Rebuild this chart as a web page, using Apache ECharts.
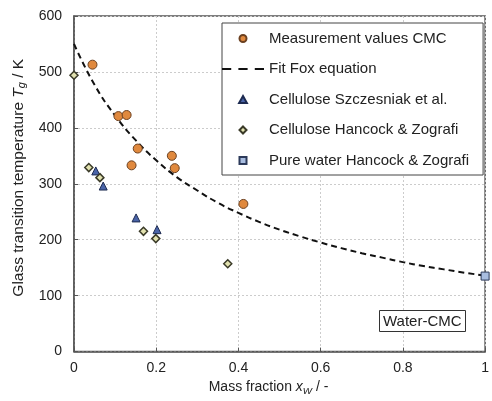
<!DOCTYPE html>
<html>
<head>
<meta charset="utf-8">
<script src="https://cdn.jsdelivr.net/npm/echarts@6/dist/echarts.min.js"></script>
<style>
  html, body { margin: 0; padding: 0; background: #fff; }
  #chart { width: 492px; height: 401px; }
</style>
</head>
<body>
<div id="chart"></div>
<script>
// measured CMC points
const cmcX = [0.045, 0.108, 0.128, 0.155, 0.140, 0.238, 0.245, 0.412];
const cmcY = [513, 421, 423, 363, 333, 350, 328, 264];
// Fox fit
const foxX = [0, 0.05, 0.1, 0.15, 0.2, 0.25, 0.3, 0.35, 0.4, 0.45, 0.5, 0.55, 0.6, 0.65, 0.7, 0.75, 0.8, 0.85, 0.9, 0.95, 1];
const foxY = [550, 477, 422, 378, 342, 312, 288, 266, 248, 232, 218, 206, 195, 185, 176, 168, 160, 153, 147, 141, 136];
// Cellulose Szczesniak et al.
const szX = [0.053, 0.071, 0.151, 0.202];
const szY = [323, 296, 239, 218];
// Cellulose Hancock & Zografi
const hzX = [0, 0.036, 0.063, 0.169, 0.199, 0.374];
const hzY = [494, 329, 311, 215, 202, 157];
// Pure water Hancock & Zografi
const waterX = [1];
const waterY = [135];

const pairs = (xs, ys) => xs.map((x, i) => [x, ys[i]]);
const font = "Liberation Sans";

// legend icons as paths so they keep their aspect in the wide legend slot
const dashIcon = "path://M0,0h9v2h-9z M16,0h9v2h-9z M32,0h9v2h-9z";
const circleIcon = "path://M0,5a5,5 0 1,0 10,0a5,5 0 1,0 -10,0z";
const triIcon = "path://M5,0L10,9L0,9z";
const diamondIcon = "path://M5,0L10,5L5,10L0,5z";
const rectIcon = "path://M0,0h10v10h-10z";

const rich = (size) => ({
  t: { fontFamily: font, fontSize: size, color: "#222" },
  i: { fontFamily: font, fontSize: size, color: "#222", fontStyle: "italic" },
  s: { fontFamily: font, fontSize: size * 0.7, color: "#222", fontStyle: "italic", verticalAlign: "bottom", padding: [7, 0, 0, 0] }
});

var chartDom = document.getElementById("chart");
var myChart = echarts.init(chartDom);
var option = {
  animation: false,
  textStyle: { fontFamily: font },
  grid: { left: 74, right: 3, top: 16, bottom: 46, show: true, borderColor: "#555", borderWidth: 1.5 },
  title: {
    text: "Water-CMC",
    left: 379,
    top: 310,
    padding: [4, 4, 3, 4],
    borderColor: "#333",
    borderWidth: 1,
    backgroundColor: "#fff",
    textStyle: { fontFamily: font, fontSize: 15, fontWeight: "normal", color: "#222" }
  },
  legend: {
    orient: "vertical",
    left: 222,
    top: 23,
    width: 260,
    padding: [8, 14, 7, 0],
    itemGap: 15.5,
    itemWidth: 42,
    itemHeight: 7,
    symbolKeepAspect: true,
    backgroundColor: "#fff",
    borderColor: "#444",
    borderWidth: 1,
    textStyle: { fontFamily: font, fontSize: 15, color: "#222" },
    data: [
      { name: "Measurement values CMC", icon: circleIcon },
      { name: "Fit Fox equation", icon: dashIcon, itemStyle: { color: "#111", borderWidth: 0 } },
      { name: "Cellulose Szczesniak et al.", icon: triIcon },
      { name: "Cellulose Hancock & Zografi", icon: diamondIcon },
      { name: "Pure water Hancock & Zografi", icon: rectIcon }
    ]
  },
  xAxis: {
    type: "value",
    min: 0,
    max: 1,
    interval: 0.2,
    name: "{t|Mass fraction }{i|x}{s|W}{t| / -}",
    nameLocation: "middle",
    nameGap: 27,
    nameTextStyle: { rich: rich(14), padding: [0, 22, 0, 0] },
    axisLine: { show: true, lineStyle: { color: "#555", width: 1.5 } },
    axisTick: { show: true, inside: true, length: 4, lineStyle: { color: "#555" } },
    axisLabel: { fontFamily: font, fontSize: 14, color: "#222", margin: 10 },
    splitLine: { show: true, lineStyle: { color: "#ccc", type: [2, 2] } }
  },
  yAxis: {
    type: "value",
    min: 0,
    max: 600,
    interval: 100,
    name: "{t|Glass transition temperature }{i|T}{s|g}{t| / K}",
    nameLocation: "middle",
    nameGap: 46,
    nameRotate: 90,
    nameTextStyle: { rich: rich(15.5), padding: [0, 0, 0, 12] },
    axisLine: { show: true, lineStyle: { color: "#555", width: 1.5 } },
    axisTick: { show: true, inside: true, length: 4, lineStyle: { color: "#555" } },
    axisLabel: { fontFamily: font, fontSize: 14, color: "#222", margin: 12 },
    splitLine: { show: true, lineStyle: { color: "#ccc", type: [2, 2] } }
  },
  series: [
    {
      name: "Fit Fox equation",
      type: "line",
      smooth: true,
      showSymbol: false,
      symbol: "none",
      data: pairs(foxX, foxY),
      lineStyle: { color: "#111", width: 2, type: [6, 4] },
      itemStyle: { color: "#111" },
      z: 3
    },
    {
      name: "Measurement values CMC",
      type: "scatter",
      symbol: "circle",
      symbolSize: 9,
      data: pairs(cmcX, cmcY),
      itemStyle: { color: "#e0893e", borderColor: "#6b4020", borderWidth: 1, opacity: 1 },
      z: 4
    },
    {
      name: "Cellulose Szczesniak et al.",
      type: "scatter",
      symbol: "triangle",
      symbolSize: 8,
      data: pairs(szX, szY),
      itemStyle: { color: "#4a64a8", borderColor: "#1c2a50", borderWidth: 1, opacity: 1 },
      z: 4
    },
    {
      name: "Cellulose Hancock & Zografi",
      type: "scatter",
      symbol: "diamond",
      symbolSize: 8,
      data: pairs(hzX, hzY),
      itemStyle: { color: "#e2e2b0", borderColor: "#3a3a28", borderWidth: 1.5, opacity: 1 },
      z: 4
    },
    {
      name: "Pure water Hancock & Zografi",
      type: "scatter",
      symbol: "rect",
      symbolSize: 8,
      clip: false,
      data: pairs(waterX, waterY),
      itemStyle: { color: "#a8bde0", borderColor: "#2c3a5a", borderWidth: 1, opacity: 1 },
      z: 4
    }
  ]
};
option && myChart.setOption(option);
</script>
</body>
</html>
